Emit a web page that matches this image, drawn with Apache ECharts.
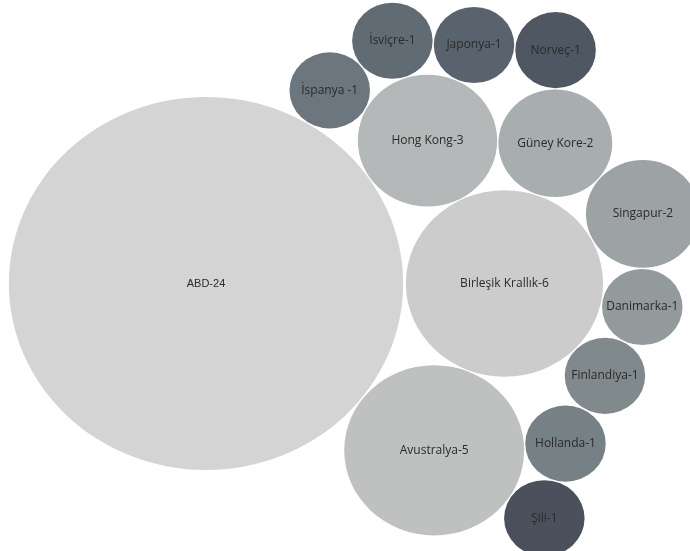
<!DOCTYPE html>
<html><head><meta charset="utf-8">
<script src="https://cdn.jsdelivr.net/npm/echarts@6/dist/echarts.min.js"></script>
<style>html,body{margin:0;padding:0;background:#fff}#c{width:690px;height:551px}</style>
</head><body><div id="c"></div>
<script>
// ---- data ----
const countries = ['ABD','Birleşik Krallık','Avustralya','Hong Kong','Güney Kore','Singapur','Danimarka','Finlandiya','Hollanda','Şili','İspanya','İsviçre','Japonya','Norveç'];
const counts    = [24, 6, 5, 3, 2, 2, 1, 1, 1, 1, 1, 1, 1, 1];
const labels    = ['ABD-24','Birleşik Krallık-6','Avustralya-5','Hong Kong-3','Güney Kore-2','Singapur-2','Danimarka-1','Finlandiya-1','Hollanda-1','Şili-1','İspanya -1','İsviçre-1','Japonya-1','Norveç-1'];
const colors    = ['#d4d4d4','#cbcccb','#bfc1c0','#b5b8b9','#a8adaf','#9da3a4','#939a9c','#808a8d','#768185','#4b515c','#6c767e','#606b74','#59636d','#4f5762'];
// packing order: each bubble touches two earlier bubbles [a, b, side]
const touchA = [null, 0, 0, 0, 3, 4, 1, 1, 2, 2, 0, 10, 11, 12];
const touchB = [null, null, 1, 1, 1, 1, 5, 6, 7, 8, 3, 3, 3, 4];
const side   = [0, 0, 1, -1, -1, -1, 1, 1, 1, 1, -1, -1, -1, -1];

// ---- layout (circle packing by tangency) ----
const radiusPerSqrt = 38.07; // px per sqrt(count)
const gap = 1.2;
const X_MIN = -194.9, X_MAX = 457.9, Y_MIN = -283.5, Y_MAX = 267.5;
const W = 690;
const sx = W / (X_MAX - X_MIN);
const rad = counts.map(v => radiusPerSqrt * Math.sqrt(v));
const pos = [];
for (let i = 0; i < counts.length; i++) {
  if (i === 0) { pos.push([0, 0]); continue; }
  if (touchB[i] === null) {
    const a = pos[touchA[i]];
    pos.push([a[0] + rad[touchA[i]] + rad[i] + 2.6, a[1]]);
    continue;
  }
  const A = pos[touchA[i]], B = pos[touchB[i]];
  const dA = rad[touchA[i]] + rad[i] + gap, dB = rad[touchB[i]] + rad[i] + gap;
  const dx = B[0] - A[0], dy = B[1] - A[1];
  const d = Math.hypot(dx, dy);
  const a = (dA * dA - dB * dB + d * d) / (2 * d);
  const h = Math.sqrt(Math.max(0, dA * dA - a * a));
  const px = A[0] + a * dx / d, py = A[1] + a * dy / d;
  const nx = -dy / d, ny = dx / d;
  pos.push([px + side[i] * h * nx, py + side[i] * h * ny]);
}

const data = countries.map((c, i) => ({
  name: c,
  value: [pos[i][0], pos[i][1], counts[i]],
  symbolSize: [2 * rad[i] * sx, 2 * rad[i]],
  itemStyle: { color: colors[i], opacity: 1 },
  label: i === 0
    ? { fontFamily: 'Liberation Sans', fontSize: 11 }
    : { fontFamily: 'Open Sans', fontSize: 12 }
}));

const chart = echarts.init(document.getElementById('c'));
chart.setOption({
  animation: false,
  backgroundColor: '#ffffff',
  grid: { left: 0, right: 0, top: 0, bottom: 0 },
  xAxis: { type: 'value', min: X_MIN, max: X_MAX, show: false },
  yAxis: { type: 'value', min: Y_MIN, max: Y_MAX, inverse: true, show: false },
  series: [{
    type: 'scatter',
    symbol: 'circle',
    data: data,
    itemStyle: { opacity: 1 },
    label: {
      show: true, position: 'inside', color: '#2a2a2a',
      formatter: p => labels[p.dataIndex]
    },
    emphasis: { disabled: true },
    silent: true
  }]
});
</script>
</body></html>
